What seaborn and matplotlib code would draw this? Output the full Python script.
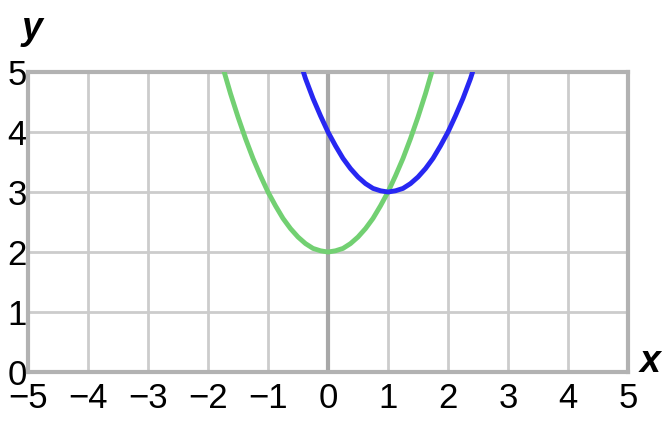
import seaborn as sns
import matplotlib.pyplot as plt
import pandas as pd

green_x = [-1.73, -1.625, -1.5, -1.375, -1.25, -1.125, -1, -0.875, -0.75, -0.625, -0.5, -0.375,
           -0.25, -0.125, 0, 0.125, 0.25, 0.375, 0.5, 0.625, 0.75, 0.875, 1, 1.125, 1.25,
           1.375, 1.5, 1.625, 1.73]
green_y = [5, 4.64, 4.25, 3.89, 3.56, 3.27, 3, 2.77, 2.56, 2.39, 2.25, 2.14,
           2.06, 2.02, 2, 2.02, 2.06, 2.14, 2.25, 2.39, 2.56, 2.77, 3, 3.27, 3.56,
           3.89, 4.25, 4.64, 5]
blue_x = [-0.41, -0.375, -0.25, -0.125, 0, 0.125, 0.25, 0.375, 0.5, 0.625, 0.75, 0.875, 1,
          1.125, 1.25, 1.375, 1.5, 1.625, 1.75, 1.875, 2, 2.125, 2.25, 2.375, 2.41]
blue_y = [5, 4.89, 4.56, 4.27, 4, 3.77, 3.56, 3.39, 3.25, 3.14, 3.06, 3.02, 3,
          3.02, 3.06, 3.14, 3.25, 3.39, 3.56, 3.77, 4, 4.27, 4.56, 4.89, 5]
x_ticks = [-5, -4, -3, -2, -1, 0, 1, 2, 3, 4, 5]
y_ticks = [0, 1, 2, 3, 4, 5]

sns.set_style("white")
plt.rcParams['font.family'] = ['Liberation Sans', 'DejaVu Sans']
plt.rcParams['text.color'] = 'black'
plt.rcParams['xtick.color'] = 'black'
plt.rcParams['ytick.color'] = 'black'

fig = plt.figure(figsize=(6.67, 4.21), dpi=100)
ax = fig.add_axes([28 / 667, 49 / 421, 600 / 667, 300 / 421])

green = pd.DataFrame({'x': green_x, 'y': green_y})
blue = pd.DataFrame({'x': blue_x, 'y': blue_y})
sns.lineplot(data=green, x='x', y='y', sort=False, color='#72d072', lw=3.5, ax=ax, zorder=4)
sns.lineplot(data=blue, x='x', y='y', sort=False, color='#2727f2', lw=3.5, ax=ax, zorder=5)

ax.set_xlim(-5, 5)
ax.set_ylim(0, 5)
ax.set_xticks(x_ticks)
ax.set_yticks(y_ticks)
ax.set_xticklabels([str(t).replace('-', '\u2212') for t in x_ticks], fontsize=25)
ax.set_yticklabels([str(t) for t in y_ticks], fontsize=25)
ax.tick_params(axis='x', length=0, pad=7)
ax.tick_params(axis='y', length=0, pad=1)
ax.grid(True, color='#cccccc', lw=2, zorder=0)
ax.axvline(0, color='#a8a8a8', lw=3, zorder=2)
for s in ax.spines.values():
    s.set_color('#b2b2b2')
    s.set_linewidth(3)
ax.set_xlabel('')
ax.set_ylabel('')

fig.text(32 / 667, 1 - 29 / 421, 'y', fontsize=27, fontweight='bold', fontstyle='italic',
         ha='center', va='center')
fig.text(650 / 667, 1 - 362 / 421, 'x', fontsize=27, fontweight='bold', fontstyle='italic',
         ha='center', va='center')

fig.savefig('out.png', dpi=100)
